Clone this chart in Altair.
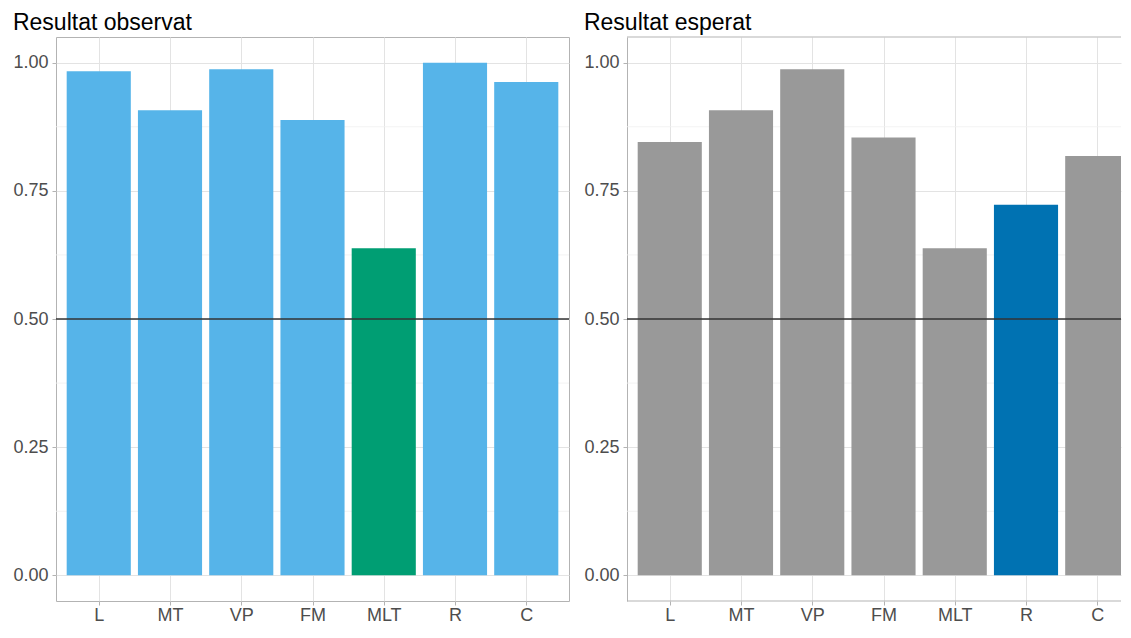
import altair as alt
import pandas as pd

categories = ["L", "MT", "VP", "FM", "MLT", "R", "C"]
observat = [0.983, 0.907, 0.987, 0.888, 0.638, 1.000, 0.962]
esperat = [0.845, 0.907, 0.987, 0.854, 0.638, 0.723, 0.818]
destacat_obs = ["no", "no", "no", "no", "si", "no", "no"]
destacat_esp = ["no", "no", "no", "no", "no", "si", "no"]
colors_obs = ["#56B4E9", "#009E73"]
colors_esp = ["#999999", "#0072B2"]
y_ticks = [0.0, 0.25, 0.5, 0.75, 1.0]
y_minor = [0.125, 0.375, 0.625, 0.875]
ref_line = [0.5]

FONT = "Liberation Sans"
FULL_W = 513          # full panel width in the reference
PANEL_H = 564
BORDER = "#b3b3b3"
EXPAND = 0.6          # ggplot discrete expansion
HALF_BAR = 0.45       # bar width 0.9

idx = list(range(len(categories)))
label_expr = "[" + ",".join("'%s'" % c for c in categories) + "][datum.value]"


def panel(values, flags, colors, title, width, clipped):
    df = pd.DataFrame({"cat": categories, "val": values, "dest": flags, "idx": idx})
    step = FULL_W / (len(categories) - 1 + 2 * EXPAND)
    lo = -EXPAND
    hi = lo + width / step
    xscale = alt.Scale(domain=[lo, hi], nice=False, zero=False, clamp=True)
    xaxis = alt.Axis(
        title=None, values=idx, labelExpr=label_expr, labelAngle=0, grid=True,
        gridColor="#e3e3e3", gridWidth=1, domain=False,
        tickColor=BORDER, tickSize=4, labelPadding=1,
        labelFontSize=18, labelColor="#4d4d4d", labelFont=FONT,
    )
    yscale = alt.Scale(domain=[-0.05, 1.05], nice=False, zero=False)
    yaxis = alt.Axis(
        title=None, values=y_ticks, format=".2f", grid=True,
        gridColor="#e3e3e3", gridWidth=1,
        domain=clipped, domainColor=BORDER, domainWidth=1,
        tickColor=BORDER, tickSize=4, labelPadding=4,
        labelFontSize=18, labelColor="#4d4d4d", labelFont=FONT,
    )
    minor = alt.Chart(pd.DataFrame({"m": y_minor})).mark_rule(
        color="#f0f0f0", strokeWidth=0.8
    ).encode(y=alt.Y("m:Q", scale=yscale))
    bars = alt.Chart(df).transform_calculate(
        x_lo="datum.idx - %f" % HALF_BAR, x_hi="datum.idx + %f" % HALF_BAR
    ).mark_bar().encode(
        x=alt.X("x_lo:Q", scale=xscale, axis=xaxis),
        x2="x_hi:Q",
        y=alt.Y("val:Q", scale=yscale, axis=yaxis),
        y2=alt.datum(0),
        color=alt.Color(
            "dest:N", scale=alt.Scale(domain=["no", "si"], range=colors), legend=None
        ),
    )
    hline = alt.Chart(pd.DataFrame({"h": ref_line})).mark_rule(
        color="#333333", strokeWidth=1.5
    ).encode(y=alt.Y("h:Q", scale=yscale))
    layers = [minor, bars, hline]
    if clipped:
        one = pd.DataFrame({"k": [0]})
        top = alt.Chart(one).mark_rule(color=BORDER, strokeWidth=1).encode(
            x=alt.value(0), x2=alt.value(width), y=alt.value(0)
        )
        bottom = alt.Chart(one).mark_rule(color=BORDER, strokeWidth=1).encode(
            x=alt.value(0), x2=alt.value(width), y=alt.value(PANEL_H)
        )
        layers += [top, bottom]
        view = alt.ViewBackground(stroke="transparent")
    else:
        view = alt.ViewBackground(stroke=BORDER, strokeWidth=1)
    return alt.layer(*layers).properties(
        width=width,
        height=PANEL_H,
        view=view,
        title=alt.TitleParams(
            title, anchor="start", fontSize=23, fontWeight="normal",
            color="black", font=FONT, offset=2,
        ),
    )


left = panel(observat, destacat_obs, colors_obs, "Resultat observat", 513, False)
right = panel(esperat, destacat_esp, colors_esp, "Resultat esperat", 494, True)

chart = alt.hconcat(left, right, spacing=12).resolve_scale(
    color="independent", x="independent"
).properties(
    padding={"left": 4, "top": 3, "right": 0, "bottom": 0}
).configure(font=FONT)

chart.save("out.html", embed_options={"renderer": "svg", "actions": False})
